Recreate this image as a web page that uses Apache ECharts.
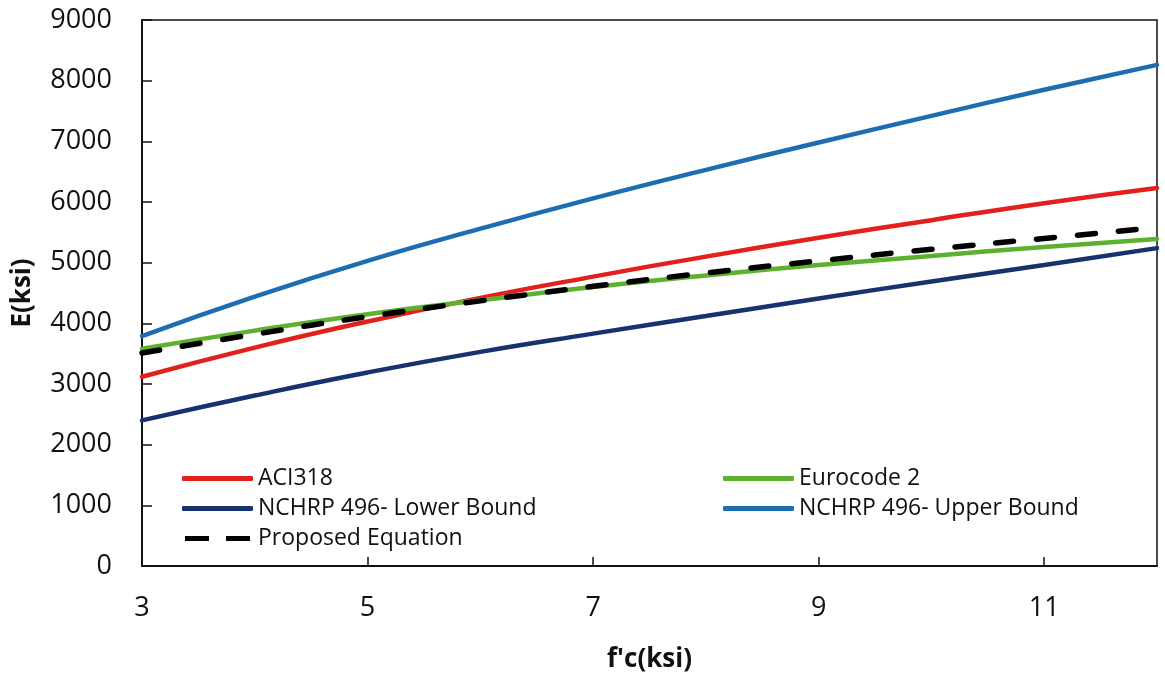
<!DOCTYPE html>
<html>
<head>
<meta charset="utf-8">
<script src="https://cdn.jsdelivr.net/npm/echarts@6/dist/echarts.min.js"></script>
<style>
html,body{margin:0;padding:0;background:#fff;}
#chart{width:1165px;height:678px;}
</style>
</head>
<body>
<div id="chart"></div>
<script>
// f'c (ksi)
var fc = [3, 4, 5, 6, 7, 8, 9, 10, 11, 12];
// E (ksi)
var aci318     = [3120, 3600, 4030, 4420, 4770, 5100, 5410, 5700, 5980, 6230];
var eurocode2  = [3580, 3880, 4150, 4380, 4600, 4790, 4960, 5110, 5260, 5390];
var nchrpLower = [2400, 2810, 3190, 3530, 3830, 4120, 4410, 4690, 4960, 5240];
var nchrpUpper = [3790, 4440, 5030, 5560, 6060, 6530, 6980, 7420, 7850, 8260];
var proposed   = [3510, 3820, 4110, 4370, 4610, 4830, 5030, 5220, 5400, 5580];

var xTicks = [3, 5, 7, 9, 11];
var yTicks = [0, 1000, 2000, 3000, 4000, 5000, 6000, 7000, 8000, 9000];

function pairs(vals){ return fc.map(function(x,i){ return [x, vals[i]]; }); }

var FONT = '"Open Sans", "DejaVu Sans", sans-serif';

function mk(name, vals, color, width, type){
  return {
    name: name, type: 'line', data: pairs(vals), smooth: true,
    showSymbol: false, symbol: 'none',
    lineStyle: { color: color, width: width, type: type || 'solid', cap: 'round' },
    itemStyle: { color: color },
    z: name === 'Proposed Equation' ? 5 : 3
  };
}

var legendText = { fontFamily: FONT, fontSize: 23, color: '#111', lineHeight: 22 };
var DASH_ICON = 'path://M0,0h24v5h-24zM41,0h24v5h-24z';

var chart = echarts.init(document.getElementById('chart'), null, {renderer: 'canvas'});
chart.setOption({
  animation: false,
  backgroundColor: '#fff',
  grid: { left: 142, right: 8, top: 20, bottom: 108, show: true, borderColor: '#111', borderWidth: 1.5, backgroundColor: 'transparent' },
  legend: [
    {
      data: [
        { name: 'ACI318', icon: 'roundRect' },
        { name: 'NCHRP 496- Lower Bound', icon: 'roundRect' },
        { name: 'Proposed Equation', icon: DASH_ICON }
      ],
      orient: 'vertical', left: 177, top: 462, itemWidth: 71, itemHeight: 5, itemGap: 7,
      textStyle: legendText
    },
    {
      data: [
        { name: 'Eurocode 2', icon: 'roundRect' },
        { name: 'NCHRP 496- Upper Bound', icon: 'roundRect' }
      ],
      orient: 'vertical', left: 718, top: 462, itemWidth: 71, itemHeight: 5, itemGap: 7,
      textStyle: legendText
    }
  ],
  xAxis: {
    type: 'value', min: 3, max: 12, interval: 2,
    name: "f'c(ksi)", nameLocation: 'middle', nameGap: 81,
    nameTextStyle: { fontFamily: FONT, fontSize: 26, fontWeight: 'bold', color: '#111' },
    axisLine: { show: true, onZero: false, lineStyle: { color: '#111', width: 2 } },
    axisTick: { show: true, inside: true, length: 9, lineStyle: { color: '#111', width: 1.5 },
      customValues: xTicks },
    axisLabel: { fontFamily: FONT, fontSize: 27, color: '#111', margin: 29,
      customValues: xTicks },
    splitLine: { show: false }
  },
  yAxis: {
    type: 'value', min: 0, max: 9000, interval: 1000,
    name: 'E(ksi)', nameLocation: 'middle', nameGap: 106, nameRotate: 90,
    nameTextStyle: { fontFamily: FONT, fontSize: 26, fontWeight: 'bold', color: '#111' },
    axisLine: { show: true, lineStyle: { color: '#111', width: 2 } },
    axisTick: { show: true, inside: true, length: 10, lineStyle: { color: '#111', width: 1.5 } },
    axisLabel: { fontFamily: FONT, fontSize: 27, color: '#111', margin: 30,
      formatter: function(v){ return yTicks.indexOf(v) >= 0 ? String(v) : ''; } },
    splitLine: { show: false }
  },
  series: [
    mk('ACI318', aci318, '#E3211C', 4.5),
    mk('Eurocode 2', eurocode2, '#5DB12F', 4.5),
    mk('NCHRP 496- Lower Bound', nchrpLower, '#17336F', 4.5),
    mk('NCHRP 496- Upper Bound', nchrpUpper, '#1E6DB2', 4.5),
    mk('Proposed Equation', proposed, '#000000', 5.5, [18, 23])
  ]
});
</script>
</body>
</html>
